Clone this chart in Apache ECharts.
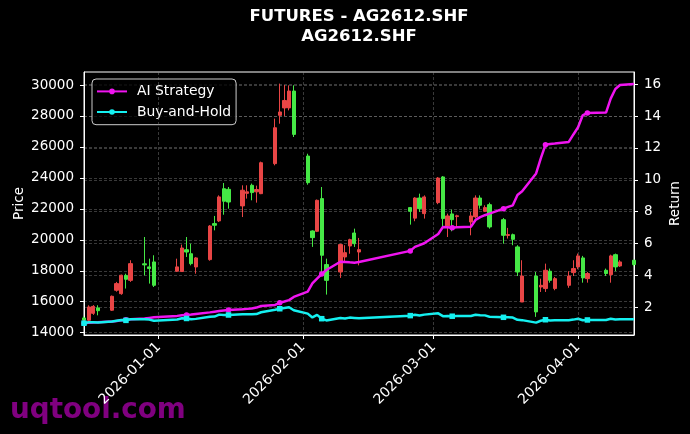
<!DOCTYPE html>
<html><head><meta charset="utf-8">
<script src="https://cdn.jsdelivr.net/npm/echarts@6/dist/echarts.min.js"></script>
<style>html,body{margin:0;padding:0;background:#000}#c{width:690px;height:434px}</style>
</head><body><div id="c"></div>
<script>
const dates = ['2025-12-16','2025-12-17','2025-12-18','2025-12-19','2025-12-22','2025-12-23','2025-12-24','2025-12-25','2025-12-26','2025-12-29','2025-12-30','2025-12-31',
'2026-01-05','2026-01-06','2026-01-07','2026-01-08','2026-01-09','2026-01-12','2026-01-13','2026-01-14','2026-01-15','2026-01-16','2026-01-19','2026-01-20','2026-01-21','2026-01-22','2026-01-23','2026-01-26','2026-01-27','2026-01-28','2026-01-29','2026-01-30',
'2026-02-02','2026-02-03','2026-02-04','2026-02-05','2026-02-06','2026-02-09','2026-02-10','2026-02-11','2026-02-12','2026-02-13','2026-02-24','2026-02-25','2026-02-26','2026-02-27',
'2026-03-02','2026-03-03','2026-03-04','2026-03-05','2026-03-06','2026-03-09','2026-03-10','2026-03-11','2026-03-12','2026-03-13','2026-03-16','2026-03-17','2026-03-18','2026-03-19','2026-03-20','2026-03-23','2026-03-24','2026-03-25','2026-03-26','2026-03-27','2026-03-30','2026-03-31',
'2026-04-01','2026-04-02','2026-04-03','2026-04-07','2026-04-08','2026-04-09','2026-04-10','2026-04-13'];
const opens = [14950,14800,15250,15600,15450,16740,16520,17700,17380,18450,18250,18570,
17970,17950,19360,19100,18245,18720,21045,21220,23300,23260,22190,23000,23520,23100,22980,24920,28040,28520,28520,29610,
25410,20570,20550,22660,18400,17920,18890,19600,20440,19210,22080,21400,22700,21690,
22400,24060,20890,21670,21500,21150,21480,22700,21840,22270,21300,20280,20330,19540,15980,17660,16950,16850,17970,16850,17060,17880,
18250,18830,17490,18030,17750,19040,18310,18680];
const closes = [14800,15660,15700,15420,16350,17170,17710,17450,18460,18380,18140,17060,
18250,19470,19210,18460,18830,20890,20940,22770,22490,22440,23200,23100,23050,23250,24980,27240,28260,29000,29610,26810,
23690,20140,22550,19000,17380,19690,19170,20010,19750,19365,21840,22700,22010,22770,
23990,21370,21540,21300,21550,21540,22700,22230,22080,20830,20290,20340,20030,17920,17660,15340,17060,18030,17380,17490,17660,18140,
18960,17540,17820,17820,18960,18250,18570,18400];
const lows = [14700,14750,15150,15120,15400,16650,16450,16850,17280,17700,17170,16950,
17920,17920,18890,18350,17810,18650,20610,21150,21620,22010,21470,22660,22550,22400,22950,24810,27500,28000,28360,26640,
23560,19540,20500,17920,16460,17540,18600,19100,19540,18350,20980,21200,21800,21370,
22300,20830,20180,20550,20840,20290,21370,22010,21800,20720,19750,20080,19650,17660,15980,15020,16630,16630,17230,16740,16900,17660,
18100,17230,17230,17660,17230,17970,18250,18300];
const highs = [15050,15770,15780,15770,16400,17280,17750,17810,18680,20180,18780,19000,
18780,19690,20180,19750,18890,20950,21540,22870,23670,23410,23520,23520,23630,23500,25050,27830,30090,30000,29980,29980,
25560,20610,22600,23410,18780,19750,19650,20070,20720,20120,22120,22750,22980,22870,
24050,24120,21690,21950,21620,21800,22870,22870,22230,22400,21410,20770,20400,19650,18680,17920,17490,18460,18140,17600,17970,18680,
19110,18960,17920,18140,19040,19110,18680,18700];
const aiStrategy = [1.00,1.03,1.05,1.06,1.10,1.14,1.18,1.21,1.25,1.29,1.33,1.37,
1.46,1.50,1.52,1.54,1.58,1.68,1.72,1.76,1.80,1.83,1.88,1.90,1.93,1.98,2.08,2.15,2.28,2.36,2.45,2.65,
2.98,3.50,3.80,4.09,4.34,4.86,4.85,4.82,4.80,4.84,5.54,5.79,5.90,6.02,
6.60,7.04,7.02,7.00,7.02,7.05,7.48,7.66,7.78,7.88,8.19,8.30,8.40,9.05,9.28,10.40,11.35,12.20,12.25,12.28,12.38,12.85,
13.30,14.05,14.20,14.22,15.10,15.70,15.95,16.02];
const buyHold = [1.000,1.058,1.061,1.042,1.105,1.160,1.197,1.179,1.247,1.242,1.226,1.153,
1.233,1.316,1.298,1.247,1.272,1.411,1.415,1.539,1.520,1.516,1.568,1.561,1.557,1.571,1.688,1.841,1.909,1.959,2.001,1.811,
1.601,1.361,1.524,1.284,1.174,1.330,1.295,1.352,1.334,1.308,1.476,1.534,1.487,1.539,
1.621,1.444,1.455,1.439,1.456,1.455,1.534,1.502,1.492,1.407,1.371,1.374,1.353,1.211,1.193,1.036,1.153,1.218,1.174,1.182,1.193,1.226,
1.281,1.185,1.204,1.204,1.281,1.233,1.255,1.243];
const priceTicks = [14000,16000,18000,20000,22000,24000,26000,28000,30000];
const returnTicks = [2,4,6,8,10,12,14,16];
const dateTicks = ['2026-01-01','2026-02-01','2026-03-01','2026-04-01'];
const dateRange = ['2025-12-16','2026-04-13'];
const priceRange = [13850, 30840];
const returnRange = [0.26, 16.77];

function ts(s){const p=s.split('-').map(Number);return new Date(p[0],p[1]-1,p[2]).getTime();}
function fmt(v){const d=new Date(v);const m=d.getMonth()+1, dd=d.getDate();return d.getFullYear()+'-'+(m<10?'0':'')+m+'-'+(dd<10?'0':'')+dd;}

const candleData = dates.map((d,i)=>[ts(d), opens[i], closes[i], lows[i], highs[i]]);
const aiData = dates.map((d,i)=>[ts(d), aiStrategy[i]]);
const bhData = dates.map((d,i)=>[ts(d), buyHold[i]]);

const FONT = 'DejaVu Sans';
const gridStyle = {color:'rgba(150,150,150,0.55)', width:0.7, type:[3,2]};
const chart = echarts.init(document.getElementById('c'), null, {renderer:'canvas'});
chart.setOption({
  backgroundColor:'#000',
  animation:false,
  textStyle:{fontFamily:FONT},
  graphic:[
    {type:'text', x:359, y:6, style:{text:'FUTURES - AG2612.SHF\nAG2612.SHF', fill:'#fff', font:'bold 16.5px "DejaVu Sans"', textAlign:'center', lineHeight:20.5}},
    {type:'text', x:10, y:425, style:{text:'uqtool.com', fill:'#800080', font:'bold 27.8px "DejaVu Sans"', textAlign:'left', verticalAlign:'bottom'}}
  ],
  grid:{left:84, right:56, top:72, bottom:99, show:true, borderColor:'#fff', borderWidth:1, backgroundColor:'transparent', containLabel:false, outerBoundsMode:'none'},
  legend:{
    data:['AI Strategy','Buy-and-Hold'], orient:'vertical', left:92, top:79,
    itemWidth:30, itemHeight:7, itemGap:6.6, padding:[5.4,5,5.7,4],
    backgroundColor:'rgba(0,0,0,0.8)', borderColor:'#cccccc', borderWidth:1, borderRadius:4,
    textStyle:{color:'#fff', fontSize:13.9, fontFamily:FONT, padding:[0,0,0,5], lineHeight:14}
  },
  xAxis:{
    type:'value', min:ts(dateRange[0]), max:ts(dateRange[1]), scale:true,
    axisLine:{show:true, onZero:false, lineStyle:{color:'#fff', width:1}},
    axisTick:{show:true, length:4, lineStyle:{color:'#fff'}, customValues:dateTicks.map(ts)},
    axisLabel:{color:'#fff', fontSize:13.9, fontFamily:FONT, rotate:45, margin:10, customValues:dateTicks.map(ts), formatter:v=>fmt(v)},
    splitLine:{show:false}
  },
  yAxis:[
    {type:'value', position:'left', min:priceRange[0], max:priceRange[1], splitNumber:8,
     name:'Price', nameLocation:'middle', nameGap:58, nameRotate:90, nameMoveOverlap:false, nameTextStyle:{color:'#fff', fontSize:13.5, fontFamily:FONT},
     axisLine:{show:true, lineStyle:{color:'#fff'}},
     axisTick:{show:true, length:4, lineStyle:{color:'#fff'}, customValues:priceTicks},
     axisLabel:{color:'#fff', fontSize:13.5, fontFamily:FONT, margin:10, customValues:priceTicks, formatter:v=>String(v)},
     splitLine:{show:true, lineStyle:gridStyle}},
    {type:'value', position:'right', min:returnRange[0], max:returnRange[1], splitNumber:8,
     name:'Return', nameLocation:'middle', nameGap:34, nameRotate:90, nameMoveOverlap:false, nameTextStyle:{color:'#fff', fontSize:13.5, fontFamily:FONT},
     axisLine:{show:true, lineStyle:{color:'#fff'}},
     axisTick:{show:true, length:4, lineStyle:{color:'#fff'}, customValues:returnTicks},
     axisLabel:{color:'#fff', fontSize:13.5, fontFamily:FONT, margin:10, customValues:returnTicks, formatter:v=>String(v)},
     splitLine:{show:true, lineStyle:gridStyle}}
  ],
  series:[
    {type:'line', name:'grid', data:[], z:1, silent:true,
     markLine:{silent:true, symbol:'none', label:{show:false}, lineStyle:gridStyle, animation:false,
       data:dateTicks.map(d=>({xAxis:ts(d)}))}},
    {type:'candlestick', name:'Price', yAxisIndex:0, data:candleData, barWidth:3.8, z:2,
     itemStyle:{color:'#e84545', color0:'#45e845', borderColor:'#e84545', borderColor0:'#45e845', borderColorDoji:'#e84545', borderWidth:1}},
    {type:'line', name:'AI Strategy', yAxisIndex:1, data:aiData, showAllSymbol:true,
     symbol:(v,p)=>p.dataIndex%7===0?'circle':'none', symbolSize:5.5,
     lineStyle:{color:'#f014f0', width:2.5}, itemStyle:{color:'#f014f0'}, z:3},
    {type:'line', name:'Buy-and-Hold', yAxisIndex:1, data:bhData, showAllSymbol:true,
     symbol:(v,p)=>p.dataIndex%7===0?'rect':'none', symbolSize:5.5,
     lineStyle:{color:'#14f0f0', width:2.5}, itemStyle:{color:'#14f0f0'}, z:4}
  ]
});
</script></body></html>
